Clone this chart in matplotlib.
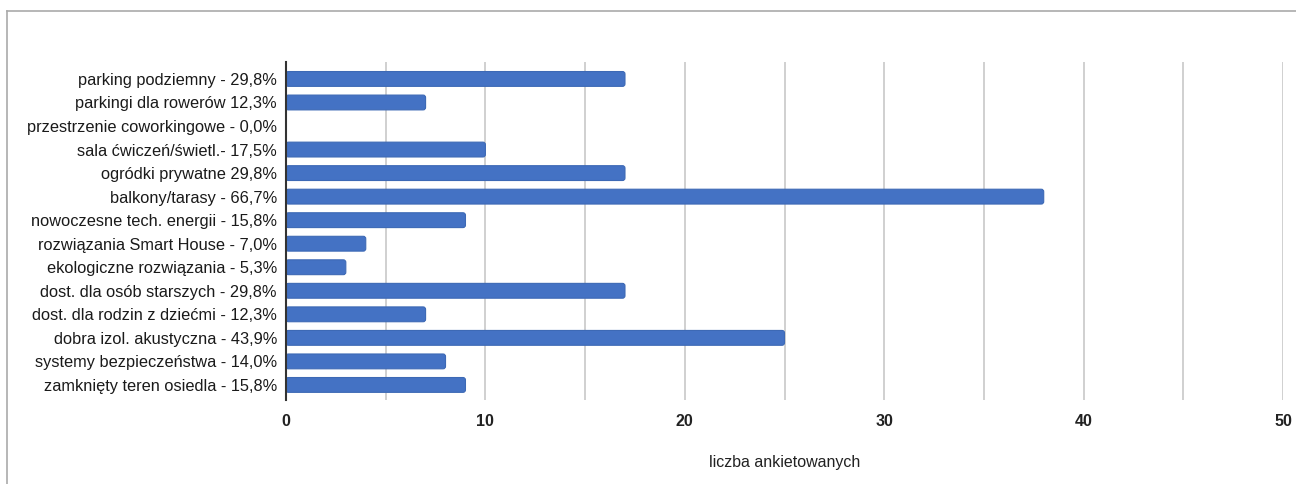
import matplotlib
matplotlib.use("Agg")
import matplotlib.pyplot as plt
from matplotlib.lines import Line2D
from matplotlib.patches import FancyBboxPatch

categories = [
    "parking podziemny - 29,8%",
    "parkingi dla rowerów 12,3%",
    "przestrzenie coworkingowe - 0,0%",
    "sala ćwiczeń/świetl.- 17,5%",
    "ogródki prywatne 29,8%",
    "balkony/tarasy - 66,7%",
    "nowoczesne tech. energii - 15,8%",
    "rozwiązania Smart House - 7,0%",
    "ekologiczne rozwiązania - 5,3%",
    "dost. dla osób starszych - 29,8%",
    "dost. dla rodzin z dziećmi - 12,3%",
    "dobra izol. akustyczna - 43,9%",
    "systemy bezpieczeństwa - 14,0%",
    "zamknięty teren osiedla - 15,8%",
]
values = [17, 7, 0, 10, 17, 38, 9, 4, 3, 17, 7, 25, 8, 9]
xticks = [0, 10, 20, 30, 40, 50]
xlabel = "liczba ankietowanych"

plt.rcParams['font.family'] = ['Liberation Sans', 'DejaVu Sans']

fig = plt.figure(figsize=(12.96, 4.84), dpi=100)
ax = fig.add_axes([286/1296, 1-400/484, (1283-286)/1296, (400-62)/484])

y = list(range(len(categories)))
bars = ax.barh(y, values, height=0.63, color='#4472C4', edgecolor='#3d69b5', linewidth=0.8, zorder=3)

ax.set_xlim(0, 50)
ax.set_ylim(13.64, -0.72)

# replace rectangles with slightly rounded ones
px_x = 997 / 50.0
px_y = 338 / (13.64 + 0.72)
for b in bars:
    x0, y0 = b.get_x(), b.get_y()
    w, h = b.get_width(), b.get_height()
    b.set_visible(False)
    if w <= 0:
        continue
    r = 2.5 / px_x
    p = FancyBboxPatch((x0, y0), w, h,
                       boxstyle=f"round,pad=0,rounding_size={r}",
                       mutation_aspect=px_x / px_y,
                       facecolor='#4472C4', edgecolor='#3d69b5', linewidth=0.8, zorder=3)
    ax.add_patch(p)

ax.set_yticks(y)
ax.set_yticklabels(categories, fontsize=11.8, color='#1a1a1a')
ax.set_xticks(xticks)
ax.set_xticklabels([str(t) for t in xticks], fontsize=11.5, color='#222222', fontweight='bold')
ax.set_xticks(list(range(5, 50, 10)), minor=True)
ax.tick_params(axis='both', which='both', length=0)
ax.tick_params(axis='x', pad=10)
ax.tick_params(axis='y', pad=6.5)
ax.grid(axis='x', which='both', color='#d0d0d0', linewidth=1.4, zorder=0)
for s in ['top', 'right', 'bottom']:
    ax.spines[s].set_visible(False)
ax.spines['left'].set_color('#333333')
ax.spines['left'].set_linewidth(1.5)
ax.spines['left'].set_zorder(4)

fig.text(785/1296, 1-463/484, xlabel, ha='center', va='center', fontsize=11.5, color='#222222')

# figure frame
fig.add_artist(Line2D([7/1296, 1.0], [1-11/484, 1-11/484], transform=fig.transFigure, color='#aaaaaa', linewidth=1.2))
fig.add_artist(Line2D([7/1296, 7/1296], [0, 1-11/484], transform=fig.transFigure, color='#aaaaaa', linewidth=1.2))

fig.savefig("out.png", dpi=100)
